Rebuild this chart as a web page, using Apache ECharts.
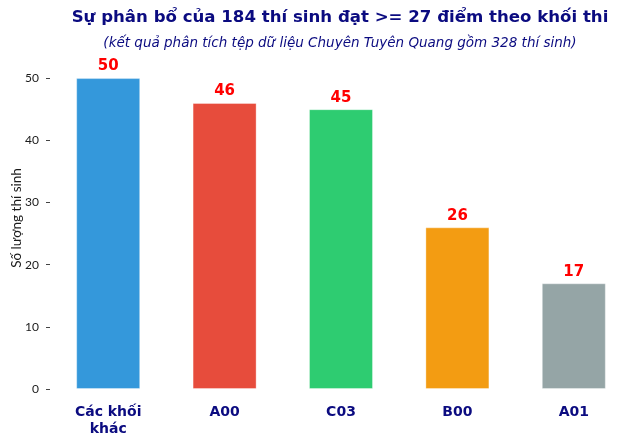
<!DOCTYPE html>
<html><head><meta charset="utf-8">
<script src="https://cdn.jsdelivr.net/npm/echarts@6/dist/echarts.min.js"></script>
<style>html,body{margin:0;padding:0;background:#fff}#c{width:640px;height:444px}</style>
</head><body><div id="c"></div>
<script>
const categories = ['Các khối\nkhác', 'A00', 'C03', 'B00', 'A01'];
const values = [50, 46, 45, 26, 17];
const colors = ['#3498db', '#e74c3c', '#2ecc71', '#f39c12', '#95a5a6'];
const yTicks = [0, 10, 20, 30, 40, 50];
const titleText = 'Sự phân bổ của 184 thí sinh đạt >= 27 điểm theo khối thi';
const subtitleText = '(kết quả phân tích tệp dữ liệu Chuyên Tuyên Quang gồm 328 thí sinh)';

const chart = echarts.init(document.getElementById('c'));
chart.setOption({
  animation: false,
  graphic: [
    {type: 'text', x: 340, y: 18, style: {text: titleText, textAlign: 'center', textVerticalAlign: 'middle',
      font: 'bold 16.6px "DejaVu Sans"', fill: '#0b0b80'}},
    {type: 'text', x: 340, y: 43, style: {text: subtitleText, textAlign: 'center', textVerticalAlign: 'middle',
      font: 'italic 13.5px "DejaVu Sans"', fill: '#0b0b80'}}
  ],
  grid: {left: 50, right: 8, top: 47, bottom: 55, containLabel: false, outerBoundsMode: 'none'},
  xAxis: {
    type: 'category', data: categories,
    axisLine: {show: false}, axisTick: {show: false},
    axisLabel: {margin: 15, fontFamily: 'DejaVu Sans', fontWeight: 'bold', fontSize: 14, color: '#0b0b80', lineHeight: 17}
  },
  yAxis: {
    type: 'value', min: 0, max: 55, interval: 10,
    name: 'Số lượng thí sinh', nameLocation: 'middle', nameGap: 26, nameRotate: 90, nameMoveOverlap: false,
    nameTextStyle: {fontFamily: 'Lato', fontSize: 13.5, color: '#1a1a1a'},
    axisLine: {show: false},
    axisTick: {show: true, length: 4, lineStyle: {color: '#444'}, customValues: yTicks},
    splitLine: {show: false},
    axisLabel: {margin: 11, fontFamily: 'Lato', fontSize: 12, color: '#1a1a1a', customValues: yTicks,
      formatter: v => yTicks.includes(v) ? String(v) : ''}
  },
  series: [{
    type: 'bar', barWidth: '55%',
    data: values.map((v, i) => ({value: v, itemStyle: {color: colors[i], borderColor: 'rgba(255,255,255,0.35)', borderWidth: 1}})),
    label: {show: true, position: 'top', distance: 4, fontFamily: 'DejaVu Sans', fontWeight: 'bold', fontSize: 15, color: '#ff0000'}
  }]
});
</script></body></html>
